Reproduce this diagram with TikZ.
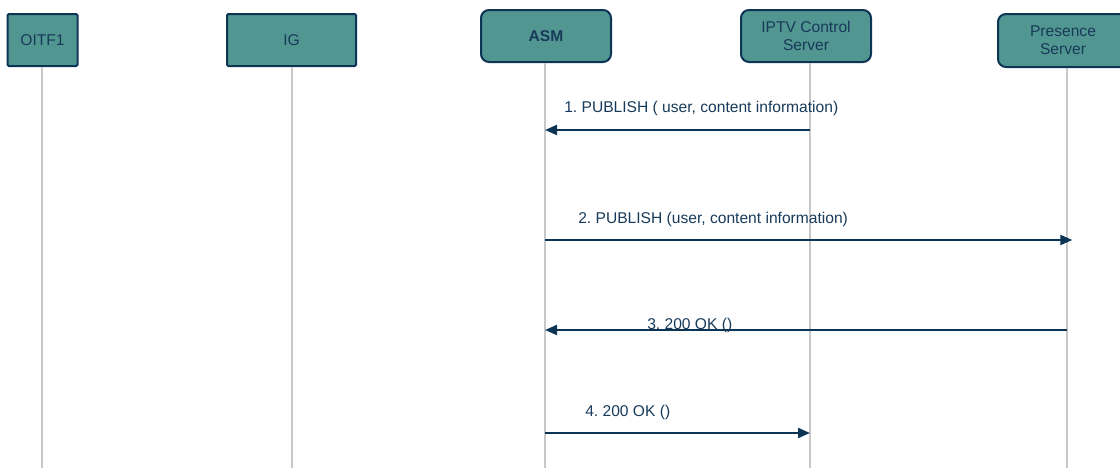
\documentclass[tikz,border=0pt]{standalone}
\usepackage{fontspec}
\setmainfont{Liberation Sans}
\usepackage{xcolor}
\definecolor{seqteal}{RGB}{82,150,145}
\definecolor{seqnavy}{RGB}{12,52,84}
\definecolor{seqtext}{RGB}{24,58,90}
\definecolor{seqgray}{RGB}{200,200,200}
\usepackage{tikz}
\usetikzlibrary{
  arrows.meta,
  positioning
}
\frenchspacing

\begin{document}
\begin{tikzpicture}[
  x=0.75pt, y=-0.75pt,
  actor/.style={
    draw=seqnavy, fill=seqteal, line width=1.5pt, text=seqtext,
    minimum width=97.5pt, minimum height=39pt, align=center,
    font=\fontsize{11.7pt}{13.5pt}\selectfont, inner sep=1pt,
  },
  sqactor/.style={actor, rounded corners=1pt},
  rdactor/.style={actor, rounded corners=6pt},
  life/.style={seqgray, line width=1.1pt},
  msg/.style={seqnavy, line width=1.5pt, -{Triangle[length=9pt,width=7.5pt]}},
  lbl/.style={text=seqtext, font=\fontsize{11.7pt}{13.5pt}\selectfont, inner sep=0pt},
]
\clip (0,0) rectangle (1120,468);

% Participants
\node[sqactor, minimum width=52.5pt] (oitf) at (42.5, 40) {OITF1};
\node[sqactor, minimum width=96.75pt] (ig)  at (291.5, 40) {IG};
\node[rdactor, font=\fontsize{11.7pt}{13.5pt}\selectfont\bfseries] (asm) at (546, 36) {ASM};
\node[rdactor] (ctrl) at (806, 36) {IPTV Control\\Server};
\node[rdactor, minimum height=39.75pt] (pres) at (1063, 40.5) {Presence\\Server};

% Lifelines
\foreach \p/\x in {oitf/42, ig/292, asm/545, ctrl/810, pres/1067} {
  \coordinate (\p end) at (\x, 468);
  \draw[life] (\p end |- \p.south) -- (\p end);
}

% Messages
\draw[msg] (ctrlend |- 0,130) -- (asmend |- 0,130);
\node[lbl, anchor=west] (m1) at (564, 108) {1. PUBLISH ( user, content information)};

\draw[msg] (asmend |- 0,240) -- ([xshift=4pt]presend |- 0,240);
\node[lbl, anchor=west] (m2) at (578, 219) {2. PUBLISH (user, content information)};

\draw[msg] (presend |- 0,330) -- (asmend |- 0,330);
\node[lbl, anchor=west] (m3) at (647, 325) {3. 200 OK ()};

\draw[msg] (asmend |- 0,433) -- (ctrlend |- 0,433);
\node[lbl, anchor=west] (m4) at (585, 412) {4. 200 OK ()};

\end{tikzpicture}
\end{document}
